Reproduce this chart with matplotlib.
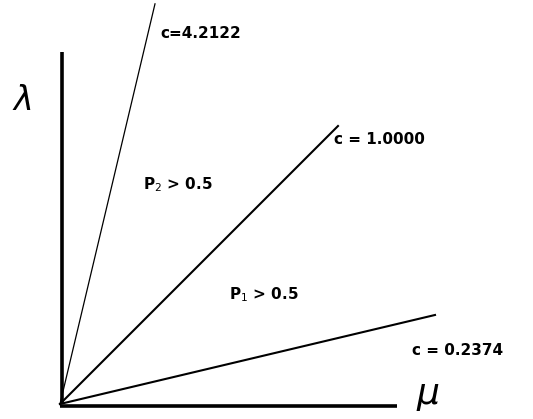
import numpy as np
import matplotlib.pyplot as plt

# boundary lines lambda = c * mu
c_values = [4.2122, 1.0000, 0.2374]
c_labels = ["c=4.2122", "c = 1.0000", "c = 0.2374"]
mu_end = [0.95, 2.78, 3.75]
line_widths = [0.9, 1.5, 1.5]

region_labels = ["P$_2$ > 0.5", "P$_1$ > 0.5"]


def main():
    fig = plt.figure(figsize=(5.33, 4.19), dpi=100)
    ax = fig.add_axes([0, 0, 1, 1])
    ax.set_xlim(-0.60, 4.73)
    ax.set_ylim(-0.15, 4.04)
    ax.axis('off')

    # axes drawn by hand
    ax.plot([0.02, 0.02], [0, 3.52], color='k', lw=2.6, solid_capstyle='butt')
    ax.plot([0, 3.37], [-0.02, -0.02], color='k', lw=2.6, solid_capstyle='butt')

    for c, m, lw in zip(c_values, mu_end, line_widths):
        mu = np.array([0, m])
        ax.plot(mu, c * mu, color='k', lw=lw)

    fs = 11
    ax.text(1.00, 3.71, c_labels[0], fontsize=fs, fontweight='bold', va='center')
    ax.text(2.74, 2.65, c_labels[1], fontsize=fs, fontweight='bold', va='center')
    ax.text(3.52, 0.54, c_labels[2], fontsize=fs, fontweight='bold', va='center')
    ax.text(0.83, 2.19, region_labels[0], fontsize=fs, fontweight='bold', va='center')
    ax.text(1.69, 1.09, region_labels[1], fontsize=fs, fontweight='bold', va='center')

    ax.text(-0.38, 3.04, r'$\lambda$', fontsize=24, ha='center', va='center')
    ax.text(3.68, 0.08, r'$\mu$', fontsize=26, ha='center', va='center')

    fig.savefig('out.png', dpi=100)


if __name__ == '__main__':
    main()
